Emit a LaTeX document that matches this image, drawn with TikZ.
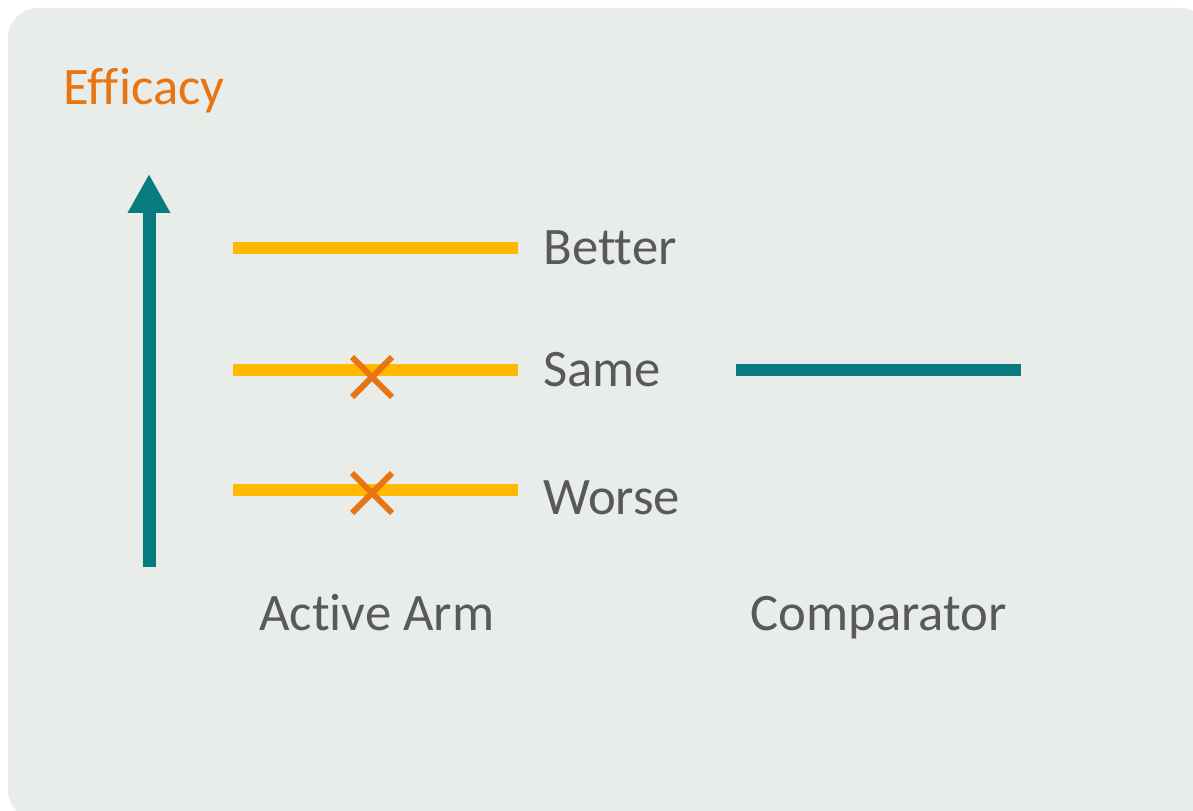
\documentclass[tikz,border=0pt]{standalone}
\usepackage{fontspec}
\setmainfont{Carlito}[Ligatures={NoCommon}]
\usetikzlibrary{arrows.meta,shapes.misc}
\definecolor{panelbg}{HTML}{E8EDEA}
\definecolor{tealarm}{HTML}{077B7D}
\definecolor{goldarm}{HTML}{FFB900}
\definecolor{orangemark}{HTML}{E87511}
\definecolor{labelgray}{HTML}{595959}
\tikzset{
  level/.style = {goldarm, line width=0.24cm},
  lbl/.style = {anchor=base west, inner sep=0pt, text=labelgray, font=\fontsize{30}{36}\selectfont},
  crossmark/.style = {cross out, draw=orangemark, line width=0.12cm, minimum size=0.68cm, inner sep=0pt}
}
\begin{document}
\begin{tikzpicture}[x = .02cm, y = -.02cm]
	\clip (0,0) rectangle (1193,811);
	\fill[panelbg, rounded corners=0.6cm] (8,8) rectangle (1210,820); %panel
	\node[lbl, text=orangemark] (efficacy) at (63,105) {Efficacy};
	% efficacy axis
	\coordinate (axisfoot) at (149,567);
	\coordinate (axistip) at (149,174);
	\draw[tealarm, line width=0.26cm, -{Triangle[width=0.8cm, length=0.78cm]}] (axisfoot) -- (axistip);
	% active arm outcomes
	\coordinate (betterA) at (233,248); \coordinate (betterB) at (518,248);
	\coordinate (sameA) at (233,370);   \coordinate (sameB) at (518,370);
	\coordinate (worseA) at (233,490);  \coordinate (worseB) at (518,490);
	\draw[level] (betterA) -- (betterB);
	\draw[level] (sameA) -- (sameB);
	\draw[level] (worseA) -- (worseB);
	\node[crossmark] (crossSame) at (372,377) {};
	\node[crossmark] (crossWorse) at (372,493) {};
	\node[lbl] (better) at (543,264) {Better};
	\node[lbl] (same) at (543,386) {Same};
	\node[lbl] (worse) at (543,514) {Worse};
	% comparator
	\coordinate (compA) at (736,370);
	\coordinate (compB) at (1021,370);
	\draw[tealarm, line width=0.24cm] (compA) -- (compB);
	\node[lbl] (active) at (259,630) {Active Arm};
	\node[lbl] (comparator) at (750,630) {Comparator};
\end{tikzpicture}
\end{document}
